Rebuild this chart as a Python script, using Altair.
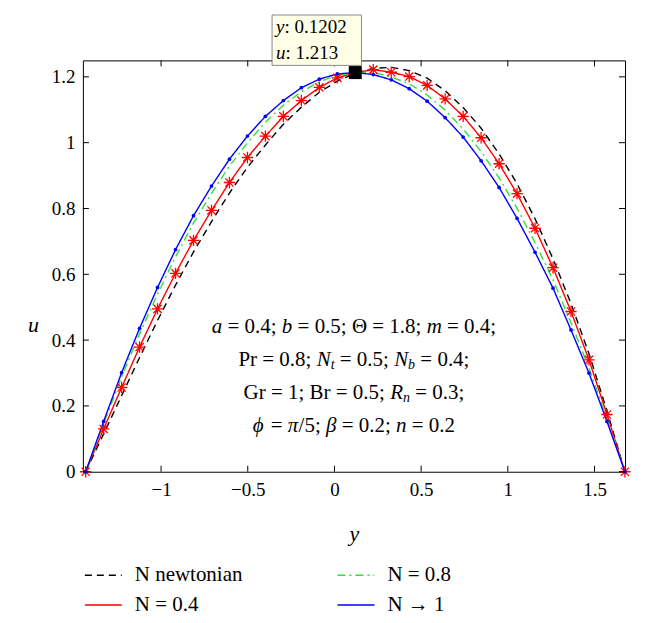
import altair as alt
import pandas as pd

# ---------------- data ----------------
x_vals = [-1.4350, -1.3313, -1.2276, -1.1240, -1.0203, -0.9166, -0.8129, -0.7092,
          -0.6056, -0.5019, -0.3982, -0.2945, -0.1908, -0.0872, 0.0165, 0.1202,
          0.2239, 0.3276, 0.4312, 0.5349, 0.6386, 0.7423, 0.8460, 0.9496,
          1.0533, 1.1570, 1.2607, 1.3644, 1.4680, 1.5717, 1.6754]

u_newtonian = [0, 0.115, 0.231, 0.347, 0.460, 0.567, 0.668, 0.760, 0.847, 0.925,
               0.993, 1.056, 1.108, 1.153, 1.187, 1.211, 1.226, 1.229, 1.219, 1.196,
               1.158, 1.107, 1.044, 0.966, 0.875, 0.769, 0.647, 0.511, 0.359, 0.185, 0]
u_N04 = [0, 0.130, 0.256, 0.379, 0.495, 0.603, 0.703, 0.794, 0.879, 0.955,
         1.020, 1.080, 1.128, 1.168, 1.197, 1.213, 1.222, 1.214, 1.201, 1.174,
         1.133, 1.080, 1.015, 0.936, 0.845, 0.740, 0.620, 0.487, 0.340, 0.174, 0]
u_N08 = [0, 0.146, 0.288, 0.419, 0.540, 0.653, 0.756, 0.846, 0.929, 1.000,
         1.062, 1.114, 1.155, 1.185, 1.205, 1.213, 1.213, 1.200, 1.179, 1.145,
         1.099, 1.042, 0.973, 0.893, 0.800, 0.696, 0.583, 0.453, 0.316, 0.161, 0]
u_N1 = [0, 0.153, 0.301, 0.436, 0.560, 0.675, 0.778, 0.868, 0.950, 1.020,
        1.080, 1.128, 1.167, 1.193, 1.209, 1.213, 1.207, 1.191, 1.164, 1.126,
        1.076, 1.017, 0.945, 0.864, 0.770, 0.667, 0.558, 0.431, 0.300, 0.153, 0]

series_names = ["N newtonian", "N = 0.4", "N = 0.8", "N → 1"]
series_values = [u_newtonian, u_N04, u_N08, u_N1]
series_colors = {"N newtonian": "#000000", "N = 0.8": "#33e033",
                 "N = 0.4": "#ff0000", "N → 1": "#0000ff"}
series_dash = {"N newtonian": [7, 5], "N = 0.8": [8, 4, 2, 4],
               "N = 0.4": [1, 0], "N → 1": [1, 0]}

x_ticks = [-1, -0.5, 0, 0.5, 1, 1.5]
u_ticks = [0, 0.2, 0.4, 0.6, 0.8, 1.0, 1.2]

tip_y = [0.1202]
tip_u = [1.213]

# ---------------- layout constants ----------------
XMIN, XMAX = -1.451, 1.676
UMIN, UMAX = 0.0, 1.25
W, H = 543, 412
FONT = "Liberation Serif, Times New Roman, serif"
TICK = 6


def px2x(p):
    return XMIN + p / W * (XMAX - XMIN)


def py2u(p):
    return UMAX - p / H * (UMAX - UMIN)


rows = []
for name, vals in zip(series_names, series_values):
    for xv, uv in zip(x_vals, vals):
        rows.append({"x": xv, "u": uv, "series": name})
df = pd.DataFrame(rows)

xscale = alt.Scale(domain=[XMIN, XMAX], nice=False, zero=False)
uscale = alt.Scale(domain=[UMIN, UMAX], nice=False, zero=False)

xaxis = alt.Axis(values=x_ticks, format="~g", title="y", ticks=False, domain=False,
                 grid=False, labelFont=FONT, labelFontSize=19, labelColor="black",
                 labelPadding=9, labelFlush=False, titleFont=FONT, titleFontSize=22,
                 titleFontStyle="italic", titleFontWeight="normal", titleColor="black",
                 titleY=62, titleBaseline="middle")
uaxis = alt.Axis(values=u_ticks, format="~g", title="u", ticks=False, domain=False,
                 grid=False, labelFont=FONT, labelFontSize=19, labelColor="black",
                 labelPadding=8, labelFlush=False, titleFont=FONT, titleFontSize=22,
                 titleFontStyle="italic", titleFontWeight="normal", titleColor="black",
                 titleAngle=0, titleX=-50, titleY=265, titleAlign="center",
                 titleBaseline="middle")

leg = alt.Legend(title=None, orient="none", legendX=1, legendY=496, columns=2,
                 symbolType="stroke", symbolSize=1369, symbolStrokeWidth=1.5,
                 labelFont=FONT, labelFontSize=21, labelColor="black", labelOffset=12,
                 columnPadding=92, rowPadding=-9, labelLimit=400)

lines = alt.Chart(df).mark_line(strokeWidth=1.4).encode(
    x=alt.X("x:Q", scale=xscale, axis=xaxis),
    y=alt.Y("u:Q", scale=uscale, axis=uaxis),
    color=alt.Color("series:N", scale=alt.Scale(domain=series_names,
                    range=[series_colors[s] for s in series_names]), legend=leg),
    strokeDash=alt.StrokeDash("series:N", scale=alt.Scale(domain=series_names,
                              range=[series_dash[s] for s in series_names]), legend=leg),
)

star_path = "M-1,0L1,0M0,-1L0,1M-0.72,-0.72L0.72,0.72M-0.72,0.72L0.72,-0.72"
stars = alt.Chart(df[df.series == "N = 0.4"]).mark_point(
    shape=star_path, filled=False, size=130, strokeWidth=1.3, color="#ff0000", opacity=1
).encode(x="x:Q", y="u:Q")

dots = alt.Chart(df[df.series == "N → 1"]).mark_circle(
    size=14, color="#0000ff", opacity=1
).encode(x="x:Q", y="u:Q")

# inner tick marks on all four sides
xt = pd.DataFrame({"x": x_ticks})
ut = pd.DataFrame({"u": u_ticks})
tick_bottom = alt.Chart(xt).mark_rule(color="black", strokeWidth=1).encode(
    x="x:Q", y=alt.value(H), y2=alt.value(H - TICK))
tick_top = alt.Chart(xt).mark_rule(color="black", strokeWidth=1).encode(
    x="x:Q", y=alt.value(0), y2=alt.value(TICK))
tick_left = alt.Chart(ut).mark_rule(color="black", strokeWidth=1).encode(
    y="u:Q", x=alt.value(0), x2=alt.value(TICK))
tick_right = alt.Chart(ut).mark_rule(color="black", strokeWidth=1).encode(
    y="u:Q", x=alt.value(W), x2=alt.value(W - TICK))

# ---------------- text (annotation + data tip) ----------------
REG = {' ': 250, '.': 250, ';': 278, ':': 278, '=': 564, 'P': 556, 'r': 333,
       'G': 722, 'B': 667, 'Θ': 722, '/': 278}
ITA = {'a': 500, 'b': 500, 'm': 722, 'n': 500, 'N': 667, 'R': 611, 't': 278,
       'ϕ': 600, 'β': 500, 'π': 520, 'y': 444, 'u': 500}


def wid(s, italic, fs):
    tab = ITA if italic else REG
    return sum(tab.get(c, 500) for c in s) / 1000.0 * fs


def layout(segs, x0, cy, fs, sub_fs, rows_out):
    px = x0
    for s, k in segs:
        italic = k != "r"
        size = sub_fs if k == "s" else fs
        lead = len(s) - len(s.lstrip(" "))
        txt = s.strip(" ")
        if txt:
            rows_out.append({"x": px2x(px + wid(" " * lead, False, size)),
                             "u": py2u(cy + (5 if k == "s" else 0)),
                             "text": txt, "fs": size,
                             "style": "italic" if italic else "normal"})
        px += wid(s, italic, size)


def seg_total(segs, fs, sub_fs):
    return sum(wid(s, k != "r", sub_fs if k == "s" else fs) for s, k in segs)


ann_lines = [
    [("a", "i"), (" = 0.4; ", "r"), ("b", "i"), (" = 0.5; Θ = 1.8; ", "r"), ("m", "i"), (" = 0.4;", "r")],
    [("Pr = 0.8; ", "r"), ("N", "i"), ("t", "s"), (" = 0.5; ", "r"), ("N", "i"), ("b", "s"), (" = 0.4;", "r")],
    [("Gr = 1; Br = 0.5; ", "r"), ("R", "i"), ("n", "s"), (" = 0.3;", "r")],
    [("ϕ", "i"), (" = ", "r"), ("π", "i"), ("/5; ", "r"), ("β", "i"), (" = 0.2; ", "r"), ("n", "i"), (" = 0.2", "r")],
]
ann_centers = [267, 300, 333, 366]
ANN_FS, SUB_FS = 21, 14

trows = []
for segs, cy in zip(ann_lines, ann_centers):
    tw = seg_total(segs, ANN_FS, SUB_FS)
    layout(segs, W / 2 - tw / 2, cy, ANN_FS, SUB_FS, trows)

tip_lines = [[("y", "i"), (": 0.1202", "r")], [("u", "i"), (": 1.213", "r")]]
for segs, cy in zip(tip_lines, [-33.5, -7]):
    layout(segs, 193.5, cy, 19, 19, trows)

tdf = pd.DataFrame(trows)

text_reg = alt.Chart(tdf[tdf["style"] == "normal"]).mark_text(
    font=FONT, align="left", baseline="middle", color="black"
).encode(x="x:Q", y="u:Q", text="text:N", size=alt.Size("fs:Q", scale=None))
text_it = alt.Chart(tdf[tdf["style"] == "italic"]).mark_text(
    font=FONT, fontStyle="italic", align="left", baseline="middle", color="black"
).encode(x="x:Q", y="u:Q", text="text:N", size=alt.Size("fs:Q", scale=None))

box = pd.DataFrame({"x": [px2x(189.5)], "x2": [px2x(279)],
                    "u": [py2u(-45.5)], "u2": [py2u(5)]})
tip_box = alt.Chart(box).mark_rect(fill="#ffffe8", stroke="#8a8a8a", strokeWidth=1).encode(
    x="x:Q", x2="x2:Q", y="u:Q", y2="u2:Q")

tip = pd.DataFrame({"x": tip_y, "u": tip_u})
tip_sq = alt.Chart(tip).mark_square(size=170, color="black", opacity=1).encode(
    x="x:Q", y="u:Q")

chart = alt.layer(
    lines, stars, dots, tick_bottom, tick_top, tick_left, tick_right,
    tip_box, text_reg, text_it, tip_sq
).properties(
    width=W, height=H,
    autosize=alt.AutoSizeParams(type="none"),
    padding={"left": 75, "top": 52, "right": 12, "bottom": 150},
    background="white",
).configure_view(stroke="black", strokeWidth=1)

chart.save("out.html", embed_options={"renderer": "svg", "actions": False})
